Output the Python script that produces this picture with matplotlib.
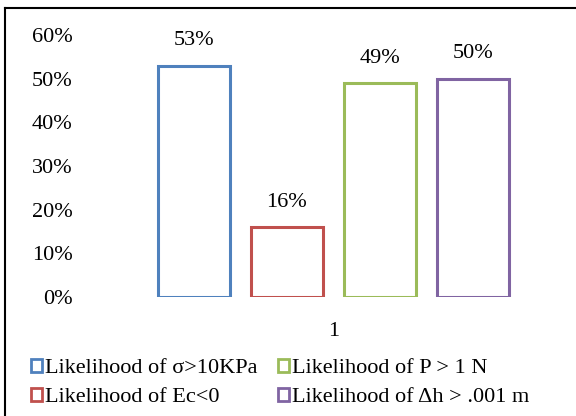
import matplotlib
matplotlib.use('Agg')
import numpy as np
from matplotlib import pyplot as plt
from matplotlib.patches import Rectangle
from matplotlib.lines import Line2D

plt.rcParams['font.family'] = ['Liberation Serif', 'DejaVu Serif']

labels = ['Likelihood of σ>10KPa', 'Likelihood of Ec<0',
          'Likelihood of P > 1 N', 'Likelihood of Δh > .001 m']
values = [0.53, 0.16, 0.49, 0.50]
colors = ['#4F81BD', '#C0504D', '#9BBB59', '#8064A2']
category = ['1']
yticks = [0, 0.1, 0.2, 0.3, 0.4, 0.5, 0.6]

fig = plt.figure(figsize=(5.76, 4.16), dpi=100)
W, H = 576.0, 416.0
# axes placed in pixel terms
ax = fig.add_axes([85 / W, (H - 297) / H, (576 - 85) / W, (297 - 35) / H])

pos = np.arange(len(values))
bars = ax.bar(pos, values, width=0.77, facecolor='white',
              edgecolor=colors, linewidth=2.2)
for p, v in zip(pos, values):
    ax.annotate('%d%%' % round(v * 100), xy=(p, v), xytext=(0, 11),
                textcoords='offset points', ha='center', va='bottom',
                fontsize=16)

ax.set_xlim(-1.17, 4.11)
ax.set_ylim(0, 0.6)
ax.set_yticks(yticks)
ax.set_yticklabels(['%d%%' % round(t * 100) for t in yticks], fontsize=16)
ax.set_xticks([np.mean(pos)])
ax.set_xticklabels(category, fontsize=16)
ax.tick_params(length=0)
ax.tick_params(axis='y', pad=9)
ax.tick_params(axis='x', pad=18)
for s in ax.spines.values():
    s.set_visible(False)

handles = [Rectangle((0, 0), 1, 1, facecolor='white', edgecolor=c, linewidth=2)
           for c in colors]
fig.legend(handles, labels, ncol=2, loc='upper left',
           bbox_to_anchor=(31 / W, (H - 359) / H), frameon=False,
           fontsize=16, handlelength=0.5, handleheight=0.5,
           handletextpad=0.15, columnspacing=0.9, labelspacing=0.45,
           borderpad=0, borderaxespad=0)

# border lines of the picture
fig.add_artist(Line2D([5 / W, 5 / W], [0, (H - 8) / H], color='black', lw=1.5))
fig.add_artist(Line2D([5 / W, 1], [(H - 8) / H, (H - 8) / H], color='black', lw=1.5))

fig.savefig('out.png', dpi=100)
